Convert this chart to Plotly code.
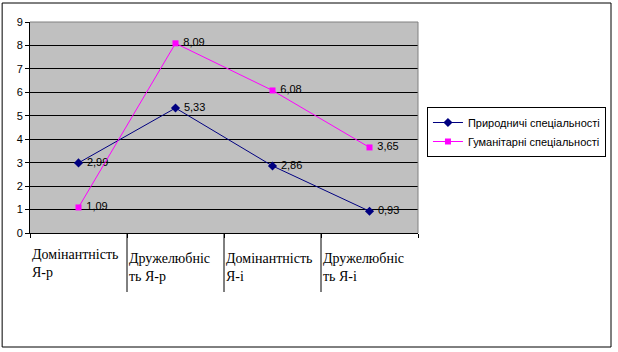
import plotly.graph_objects as go

categories = ["Домінантність Я-р", "Дружелюбність Я-р", "Домінантність Я-і", "Дружелюбність Я-і"]
tick_labels = ["Домінантність<br>Я-р", "Дружелюбніс<br>ть Я-р", "Домінантність<br>Я-і", "Дружелюбніс<br>ть Я-і"]
series_names = ["Природничі спеціальності", "Гуманітарні спеціальності"]
natural = [2.99, 5.33, 2.86, 0.93]
humanit = [1.09, 8.09, 6.08, 3.65]

def fmt(v):
    return "\u00a0" + f"{v:.2f}".replace(".", ",")

L, R, T, B = 30, 420, 22, 233
W, H = 618, 352

fig = go.Figure()
fig.add_trace(go.Scatter(
    x=categories, y=natural, name=series_names[0], mode="lines+markers+text",
    line=dict(color="#000080", width=1),
    marker=dict(symbol="diamond", size=7, color="#000080"),
    text=[fmt(v) for v in natural], textposition="middle right",
    textfont=dict(family="Liberation Sans", size=11, color="black"),
))
fig.add_trace(go.Scatter(
    x=categories, y=humanit, name=series_names[1], mode="lines+markers+text",
    line=dict(color="#FF00FF", width=1),
    marker=dict(symbol="square", size=6, color="#FF00FF"),
    text=[fmt(v) for v in humanit], textposition="middle right",
    textfont=dict(family="Liberation Sans", size=11, color="black"),
))

def py(p):
    return (B - p) / (B - T)

def px(p):
    return (p - L) / (R - L)

shapes = []
shapes.append(dict(type="rect", xref="paper", yref="paper",
                   x0=px(2), x1=px(614), y0=py(347), y1=py(3),
                   line=dict(color="black", width=1), layer="above"))
shapes.append(dict(type="line", xref="paper", yref="paper", x0=0, x1=1, y0=1, y1=1,
                   line=dict(color="#808080", width=1), layer="above"))
shapes.append(dict(type="line", xref="paper", yref="paper", x0=1, x1=1, y0=0, y1=1,
                   line=dict(color="#808080", width=1), layer="above"))
for i in range(1, len(categories)):
    shapes.append(dict(type="line", xref="x", yref="paper", x0=i - 0.5, x1=i - 0.5,
                       y0=py(292), y1=0, line=dict(color="black", width=1)))

label_tops = [245, 249, 249, 249]
annotations = []
for i, t in enumerate(tick_labels):
    annotations.append(dict(x=i - 0.5, xref="x", y=py(label_tops[i]), yref="paper",
                            text=t, showarrow=False, xanchor="left", yanchor="top",
                            align="left",
                            font=dict(family="Liberation Serif, serif", size=14, color="black")))

fig.update_layout(
    width=W, height=H,
    margin=dict(l=L, r=W - R, t=T, b=H - B),
    paper_bgcolor="white", plot_bgcolor="#C0C0C0",
    showlegend=True,
    legend=dict(x=px(429), y=py(107), xanchor="left", yanchor="top",
                bordercolor="black", borderwidth=1, bgcolor="white",
                font=dict(family="Liberation Sans", size=11, color="black"),
                tracegroupgap=0, itemwidth=30),
    shapes=shapes, annotations=annotations,
    xaxis=dict(type="category", range=[-0.5, 3.5], showgrid=False, showticklabels=False,
               showline=True, linecolor="black", linewidth=1,
               ticks="outside", ticklen=4, tickcolor="black",
               tickmode="array", tickvals=[-0.5, 0.5, 1.5, 2.5, 3.5], zeroline=False,
               fixedrange=True),
    yaxis=dict(range=[0, 9], dtick=1, showgrid=True, gridcolor="black", gridwidth=1,
               showline=True, linecolor="black", linewidth=1,
               ticks="outside", ticklen=4, tickcolor="black", zeroline=False,
               tickfont=dict(family="Liberation Sans", size=11, color="black")),
)

fig.write_html("out.html")
